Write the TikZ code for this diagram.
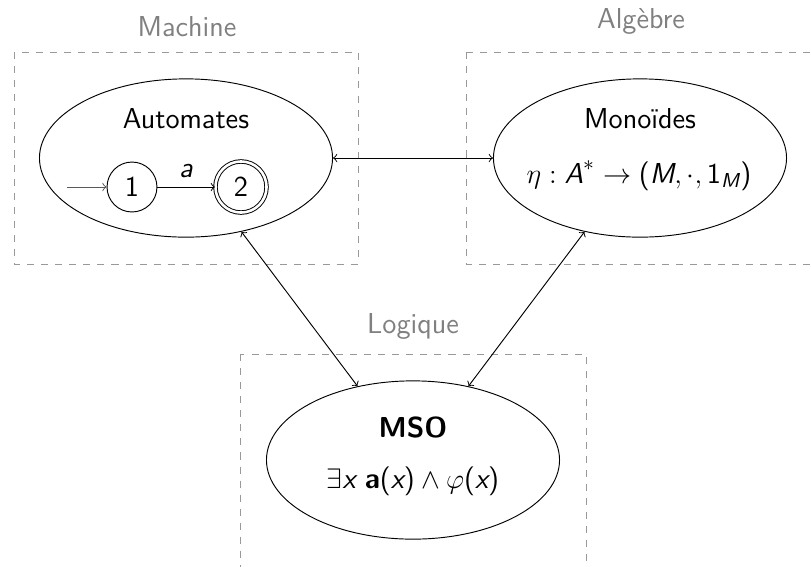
\documentclass[tikz,border=0pt]{standalone}
\usepackage{amsmath}
\usepackage{fontspec}
\usetikzlibrary{shapes.geometric}
\newcommand\sv[1]{\text{\sffamily\itshape #1}}
\newcommand\su[1]{\text{\sffamily #1}}
\begin{document}
\begin{tikzpicture}[x=0.4265pt,y=-0.4265pt,
  every node/.style={font=\sffamily\fontsize{12.3}{14}\selectfont},
  blob/.style={draw, ellipse, inner sep=0pt, minimum width=125pt, minimum height=67.5pt},
  frame/.style={draw=black!40, dashed, line width=0.4pt},
  title/.style={text=black!50, anchor=base},
  txt/.style={anchor=base},
  state/.style={draw, circle, inner sep=0pt, minimum size=21.3pt},
  accept/.style={state, double, double distance=1.1pt, minimum size=21.8pt},
  >=to]
\useasboundingbox (0,0) rectangle (811,566);
\clip (0,0) rectangle (811,566);
% frames
\draw[frame] (14,52) rectangle (358,264);
\draw[frame] (466,52) rectangle (820,264);
\draw[frame] (240,354) rectangle (586,580);
% titles
\node[title] (tm) at (187,36) {Machine};
\node[title] (ta) at (641,28) {Algèbre};
\node[title] (tl) at (413,333) {Logique};
% ellipses
\node[blob] (auto) at (186,158) {};
\node[blob] (mono) at (640,158) {};
\node[blob] (mso) at (413,460) {};
% texts
\node[txt] (la) at (186,128) {Automates};
\node[txt] (lm) at (640,128) {Monoïdes};
\node[txt] (fm) at (639,183) {$\eta : \sv{A}^{*} \to \su{(}\sv{M},\cdot,\su{1}_{\sv{M}}\su{)}$};
\node[txt] (lmso) at (413,437) {\bfseries MSO};
\node[txt] (fmso) at (413,488) {$\exists \sv{x}\ \text{\bfseries a}\su{(}\sv{x}\su{)} \wedge \varphi\su{(}\sv{x}\su{)}$};
% automaton
\node[state] (s1) at (132,187) {1};
\node[accept] (s2) at (241,187) {2};
\coordinate (init) at (67,187);
\draw[->, black!65] (init) -- (s1);
\draw[->] (s1) -- (s2);
\node[txt] (lab) at (186,177) {$\sv{a}$};
% links
\draw[<->] (auto) -- (mono);
\draw[<->] (auto) -- (mso);
\draw[<->] (mono) -- (mso);
\end{tikzpicture}
\end{document}
